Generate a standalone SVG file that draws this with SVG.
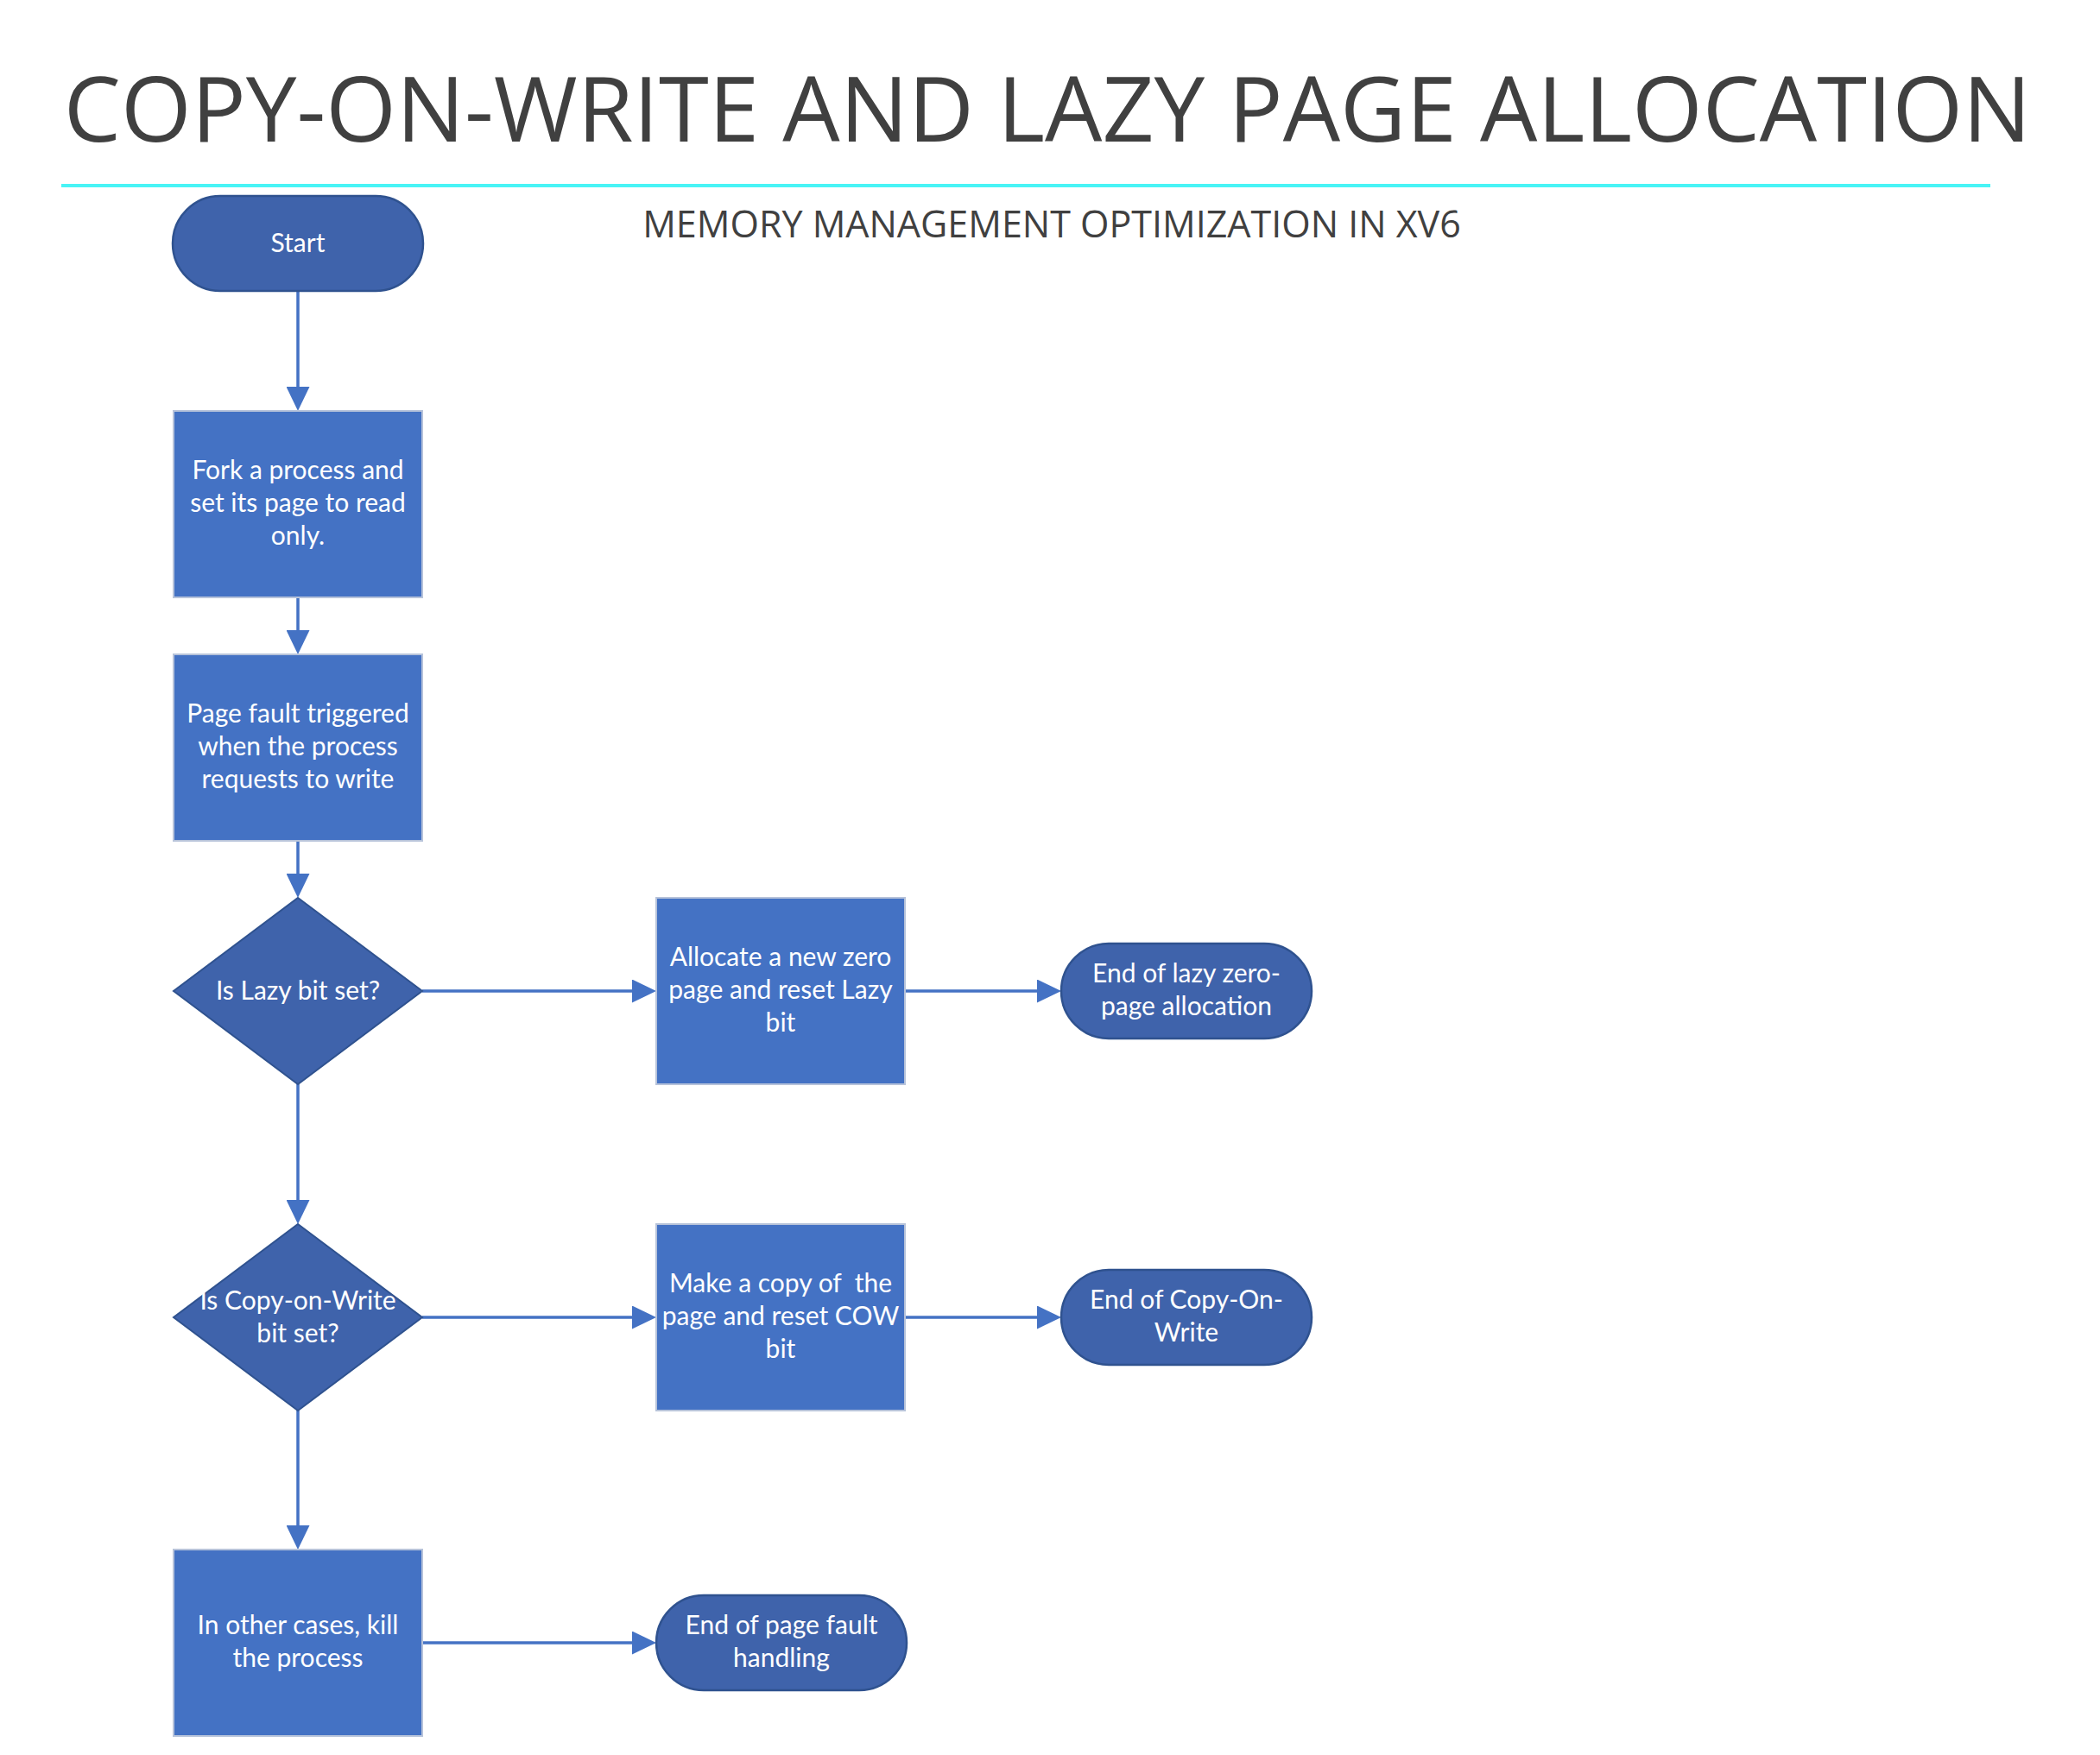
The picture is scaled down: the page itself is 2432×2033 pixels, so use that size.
<svg xmlns="http://www.w3.org/2000/svg" width="2432" height="2033" viewBox="0 0 2432 2033">
  <defs>
    <style>
      .title { font-family: "Open Sans", "Liberation Sans", sans-serif; fill: #404040; text-anchor: middle; }
      .term { fill: #3F63AB; stroke: #2F528F; stroke-width: 2.5; }
      .proc { fill: #4472C4; stroke: #B7C3DA; stroke-width: 2; }
      .dec { fill: #3F63AB; stroke: #2F528F; stroke-width: 2; }
      .lbl { font-family: Lato, "Liberation Sans", sans-serif; font-size: 30px; fill: #FFFFFF; text-anchor: middle; white-space: pre; }
      .conn { fill: none; stroke: #4472C4; stroke-width: 3.5; }
    </style>
    <marker id="arrow" viewBox="0 0 28 27" refX="18" refY="13.5" markerWidth="28" markerHeight="27" markerUnits="userSpaceOnUse" orient="auto">
      <path d="M0,0 L28,13.5 L0,27 Z" fill="#4472C4"/>
    </marker>
  </defs>
  <rect x="0" y="0" width="2432" height="2033" fill="#FFFFFF"/>

  <g id="header">
    <text class="title" x="1213" y="164" font-size="105">COPY-ON-WRITE AND LAZY PAGE ALLOCATION</text>
    <line x1="71" y1="215" x2="2305" y2="215" stroke="#48F4F6" stroke-width="4"/>
    <text class="title" x="1218" y="275" font-size="43">MEMORY MANAGEMENT OPTIMIZATION IN XV6</text>
  </g>

  <g id="connectors">
    <path class="conn" d="M345 337 V466" marker-end="url(#arrow)"/>
    <path class="conn" d="M345 692 V748" marker-end="url(#arrow)"/>
    <path class="conn" d="M345 974 V1030" marker-end="url(#arrow)"/>
    <path class="conn" d="M345 1256 V1408" marker-end="url(#arrow)"/>
    <path class="conn" d="M345 1634 V1785" marker-end="url(#arrow)"/>
    <path class="conn" d="M489 1148 H750" marker-end="url(#arrow)"/>
    <path class="conn" d="M1048 1148 H1219" marker-end="url(#arrow)"/>
    <path class="conn" d="M489 1526 H750" marker-end="url(#arrow)"/>
    <path class="conn" d="M1048 1526 H1219" marker-end="url(#arrow)"/>
    <path class="conn" d="M489 1903 H750" marker-end="url(#arrow)"/>
  </g>

  <g id="start">
    <rect class="term" x="200" y="227" width="290" height="110" rx="55" ry="55"/>
    <text class="lbl" x="345" y="292">Start</text>
  </g>

  <g id="fork">
    <rect class="proc" x="201" y="476" width="288" height="216"/>
    <text class="lbl" x="345" y="555">Fork a process and</text>
    <text class="lbl" x="345" y="593">set its page to read</text>
    <text class="lbl" x="345" y="631">only.</text>
  </g>

  <g id="pagefault">
    <rect class="proc" x="201" y="758" width="288" height="216"/>
    <text class="lbl" x="345" y="837">Page fault triggered</text>
    <text class="lbl" x="345" y="875">when the process</text>
    <text class="lbl" x="345" y="913">requests to write</text>
  </g>

  <g id="lazy-check">
    <polygon class="dec" points="345,1040 489,1148 345,1256 201,1148"/>
    <text class="lbl" x="345" y="1158">Is Lazy bit set?</text>
  </g>

  <g id="allocate">
    <rect class="proc" x="760" y="1040" width="288" height="216"/>
    <text class="lbl" x="904" y="1119">Allocate a new zero</text>
    <text class="lbl" x="904" y="1157">page and reset Lazy</text>
    <text class="lbl" x="904" y="1195">bit</text>
  </g>

  <g id="end-lazy">
    <rect class="term" x="1229" y="1093" width="290" height="110" rx="55" ry="55"/>
    <text class="lbl" x="1374" y="1138">End of lazy zero-</text>
    <text class="lbl" x="1374" y="1176">page allocation</text>
  </g>

  <g id="cow-check">
    <polygon class="dec" points="345,1418 489,1526 345,1634 201,1526"/>
    <text class="lbl" x="345" y="1517">Is Copy-on-Write</text>
    <text class="lbl" x="345" y="1555">bit set?</text>
  </g>

  <g id="copy">
    <rect class="proc" x="760" y="1418" width="288" height="216"/>
    <text class="lbl" x="904" y="1497" xml:space="preserve">Make a copy of  the</text>
    <text class="lbl" x="904" y="1535">page and reset COW</text>
    <text class="lbl" x="904" y="1573">bit</text>
  </g>

  <g id="end-cow">
    <rect class="term" x="1229" y="1471" width="290" height="110" rx="55" ry="55"/>
    <text class="lbl" x="1374" y="1516">End of Copy-On-</text>
    <text class="lbl" x="1374" y="1554">Write</text>
  </g>

  <g id="kill">
    <rect class="proc" x="201" y="1795" width="288" height="216"/>
    <text class="lbl" x="345" y="1893">In other cases, kill</text>
    <text class="lbl" x="345" y="1931">the process</text>
  </g>

  <g id="end-pagefault">
    <rect class="term" x="760" y="1848" width="290" height="110" rx="55" ry="55"/>
    <text class="lbl" x="905" y="1893">End of page fault</text>
    <text class="lbl" x="905" y="1931">handling</text>
  </g>
</svg>
